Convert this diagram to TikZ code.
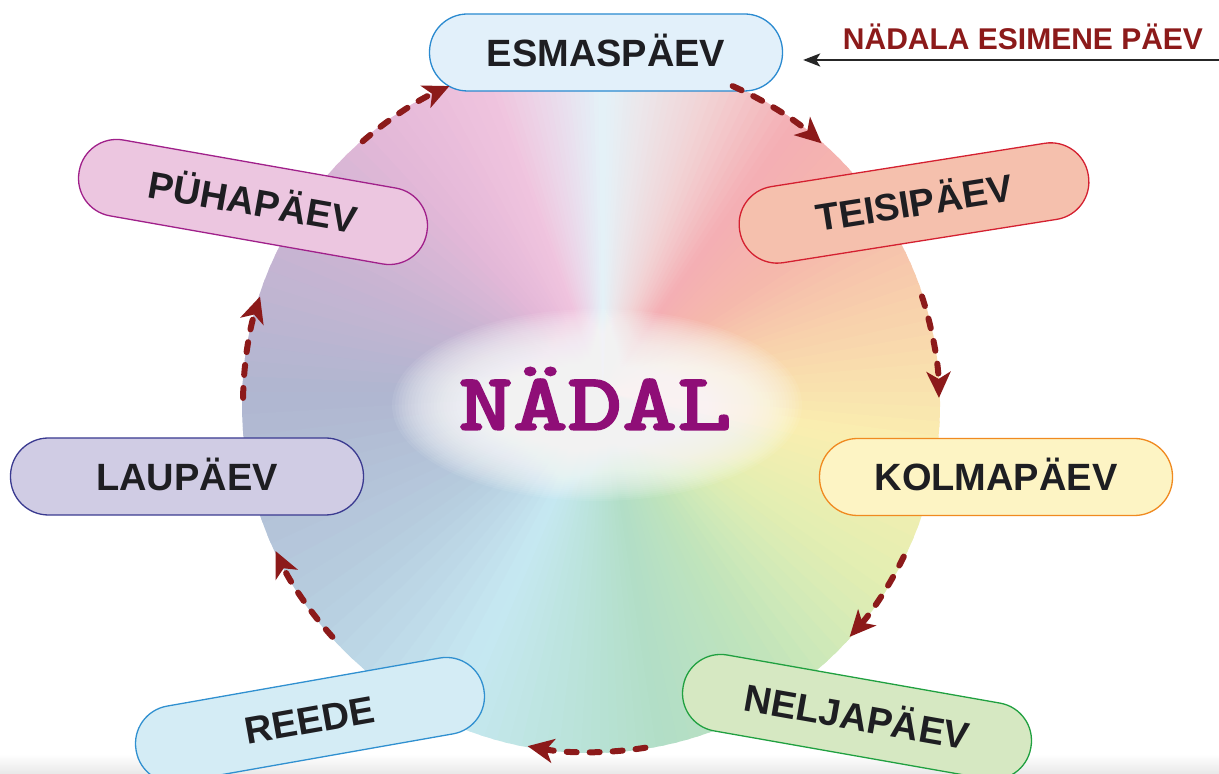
\documentclass[tikz,border=0pt]{standalone}
\usepackage{fontspec}
\setmainfont{Liberation Sans}
\newfontfamily\typew{lmmonolt10-bold.otf}[FakeBold=1.6]
\usetikzlibrary{arrows.meta}
\definecolor{txt}{HTML}{1E1E22}
\definecolor{arrred}{HTML}{8C1A1A}
\definecolor{nadalc}{HTML}{8F0E77}
% pill colours
\definecolor{esmF}{HTML}{E2F0FA}\definecolor{esmD}{HTML}{2A8AD0}
\definecolor{teiF}{HTML}{F5C0AD}\definecolor{teiD}{HTML}{D42030}
\definecolor{kolF}{HTML}{FDF4C4}\definecolor{kolD}{HTML}{F08A20}
\definecolor{nelF}{HTML}{D6E8C2}\definecolor{nelD}{HTML}{20A040}
\definecolor{reeF}{HTML}{D4ECF5}\definecolor{reeD}{HTML}{3090D0}
\definecolor{lauF}{HTML}{D0CCE4}\definecolor{lauD}{HTML}{3A3A90}
\definecolor{puhF}{HTML}{ECC6E0}\definecolor{puhD}{HTML}{A0208A}
% conic stops
\definecolor{s0}{HTML}{E4F2F8}
\definecolor{sa}{HTML}{ECE6EA}
\definecolor{s1}{HTML}{F2D2D4}
\definecolor{s2}{HTML}{F4AFB4}
\definecolor{s3}{HTML}{F5B8AC}
\definecolor{s4}{HTML}{F8D2AC}
\definecolor{s5}{HTML}{FAEEB0}
\definecolor{s6}{HTML}{E2EEB2}
\definecolor{s7}{HTML}{C0E4BC}
\definecolor{s8}{HTML}{B2DEC6}
\definecolor{s9}{HTML}{BAE3DA}
\definecolor{s10}{HTML}{C6E8F2}
\definecolor{s11}{HTML}{B6CCDE}
\definecolor{s12}{HTML}{B0B6D0}
\definecolor{s13}{HTML}{C8B4D2}
\definecolor{s14}{HTML}{E4B8D8}
\definecolor{s15}{HTML}{F0C4DE}
\definecolor{s16}{HTML}{EADCEC}
\begin{document}
\begin{tikzpicture}[x=0.5pt,y=0.5pt,
  day/.style={draw, line width=0.65pt, rounded corners=19pt,
    minimum width=176.5pt, minimum height=38.5pt, inner sep=0pt,
    text height=13.6pt, text depth=0pt,
    font=\bfseries\fontsize{19}{22}\selectfont, text=txt},
  cyc/.style={draw=arrred, line width=3pt, line cap=round,
    dash pattern=on 5pt off 6.5pt,
    -{Stealth[length=13pt,width=12pt,inset=3.5pt]}}]
\useasboundingbox (0,0) rectangle (1219,774);
\fill[white] (0,0) rectangle (1219,774);
\shade[top color=white, bottom color=black!9] (0,0) rectangle (1219,20);

% colour wheel
\coordinate (C) at (591,370);
\coordinate (K) at (603,382);
\begin{scope}
\clip (C) circle[radius=349];
\foreach \a/\b/\ca/\cb in {90/82/s0/sa, 82/70/sa/s1, 70/55/s1/s2, 55/35/s2/s3, 35/15/s3/s4,
  15/-10/s4/s5, -10/-35/s5/s6, -35/-60/s6/s7, -60/-80/s7/s8, -80/-95/s8/s9,
  -95/-115/s9/s10, -115/-145/s10/s11, -145/-180/s11/s12, -180/-205/s12/s13,
  -205/-230/s13/s14, -230/-250/s14/s15, -250/-261/s15/s16, -261/-270/s16/s0} {
  \foreach \k in {0,...,9} {
    \pgfmathsetmacro\s{\a+(\b-\a)*\k/10}
    \pgfmathsetmacro\e{\a+(\b-\a)*(\k+1.4)/10}
    \pgfmathtruncatemacro\p{95-10*\k}
    \fill[\ca!\p!\cb] (K) -- ([shift={(\s:460)}]K)
      arc[start angle=\s, end angle=\e, radius=460] -- cycle;
  }
}
\coordinate (G) at (597,369);
\foreach \i in {0,...,29} {
  \fill[white, opacity=0.075] (G) ellipse[x radius={205-3.2*\i}, y radius={96-2*\i}];
}
\end{scope}

\node[font=\typew\fontsize{41}{41}\selectfont, text=nadalc,
  xscale=1.27, anchor=base, inner sep=0pt] (nadal) at (595,344) {NÄDAL};

% day pills
\node[day, draw=esmD, fill=esmF] (esm) at (606,721.5) {ESMASPÄEV};
\node[day, draw=teiD, fill=teiF, rotate=9] (tei) at (914,571) {TEISIPÄEV};
\node[day, draw=kolD, fill=kolF] (kol) at (996,297) {KOLMAPÄEV};
\node[day, draw=nelD, fill=nelF, rotate=-10] (nel) at (857,57) {NELJAPÄEV};
\node[day, draw=reeD, fill=reeF, rotate=10] (ree) at (310,54) {REEDE};
\node[day, draw=lauD, fill=lauF] (lau) at (187,297.5) {LAUPÄEV};
\node[day, draw=puhD, fill=puhF, rotate=-10] (puh) at (253,572) {PÜHAPÄEV};

% cycle arrows along the wheel
\foreach \n/\s/\e in {1/66/48.5, 2/18/1, 3/-26/-42, 4/-81/-100.5,
  5/-138/-155, 6/179/162, 7/131/114} {
  \coordinate (a\n) at ([shift={(\s:348)}]C);
  \draw[cyc] (a\n) arc[start angle=\s, end angle=\e, radius=348];
}

% first-day label
\node[font=\bfseries\fontsize{15}{18}\selectfont, text=arrred, anchor=base,
  inner sep=0pt] (first) at (1023,724) {NÄDALA ESIMENE PÄEV};
\coordinate (fs) at (1219,714);
\draw[line width=1.2pt, draw=black!85, shorten >=10pt,
  -{Stealth[length=8.5pt,width=6.5pt,inset=2pt]}] (fs) -- (fs -| esm.east);
\end{tikzpicture}
\end{document}
